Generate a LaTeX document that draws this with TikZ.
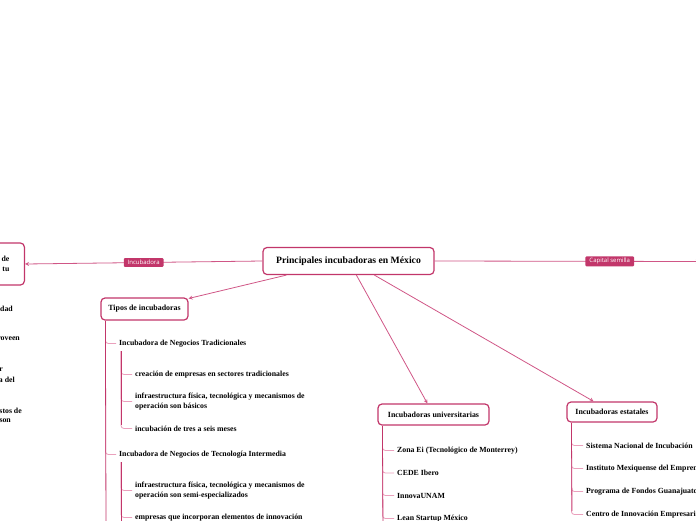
\documentclass[tikz,border=0pt]{standalone}
\usepackage{fontspec}
\setmainfont{Liberation Serif}
\newfontfamily\tagfont{Open Sans}
\usetikzlibrary{positioning, arrows}

\definecolor{mmred}{RGB}{194,54,106}
\definecolor{mmline}{RGB}{208,86,134}
\definecolor{mmpink}{RGB}{234,160,188}

\tikzset{
  topic/.style={draw=mmred, line width=1.2pt, rounded corners=4pt, fill=white, align=center, font=\bfseries\fontsize{7.9}{9}\selectfont, inner xsep=6pt, minimum height=21pt},
  central/.style={topic, font=\bfseries\fontsize{9.7}{11}\selectfont, minimum height=27pt},
  item/.style={anchor=west, align=left, inner xsep=3pt, inner ysep=1pt, yshift=-1.5pt, font=\bfseries\fontsize{7.8}{10}\selectfont},
  frag/.style={anchor=east, inner sep=0pt, font=\bfseries\fontsize{7.8}{10}\selectfont},
  tag/.style={fill=mmred, text=white, rounded corners=1pt, inner xsep=4pt, inner ysep=2pt, font=\tagfont\fontsize{6}{7}\selectfont},
  link/.style={color=mmline, line width=0.8pt, ->, >=stealth},
  stem/.style={color=mmred, line width=0.8pt},
  twig/.style={color=mmpink, line width=0.8pt, rounded corners=3pt},
}

\begin{document}
\begin{tikzpicture}[x=1pt, y=-1pt]
\useasboundingbox (0,0) rectangle (696,520);
\clip (0,0) rectangle (696,520);

% main topics
\node[central, minimum width=171pt] (central) at (348.5,261) {Principales incubadoras en México};
\node[topic, anchor=east, minimum height=42pt, align=right, inner xsep=15pt, font=\bfseries\fontsize{7.8}{10.5}\selectfont] (left) at (25,264) {de\\tu};
\coordinate (capital) at (700,261.5);
\node[topic, minimum width=87pt, minimum height=22pt] (tipos) at (144.5,309) {Tipos de incubadoras};
\node[topic, minimum width=111pt] (univ) at (433.5,414.5) {Incubadoras universitarias};
\node[topic, minimum width=90pt, minimum height=20pt] (estatales) at (612,412) {Incubadoras estatales};

\draw[link] (central.west) -- (left.east);
\draw[link] (central.east) -- (capital);
\path (central.west) -- (left.east) node[tag, pos=0.5] (tag-inc) {Incubadora};
\path (central.east) -- (capital) node[tag, pos=0.66] (tag-cap) {Capital semilla};
\draw[link] ([xshift=24pt]central.south west) -- (tipos);
\draw[link] ([xshift=94pt]central.south west) -- (univ);
\draw[link] ([xshift=112pt]central.south west) -- (estatales);

% left branch, cut by the page edge
\node[frag] (frag-a) at (13,309) {dad};
\node[frag] (frag-b) at (20,339) {roveen};
\node[frag] (frag-c) at (3,370) {r};
\node[frag] (frag-d) at (15,380) {a del};
\node[frag] (frag-e) at (22,411) {stos de};
\node[frag] (frag-f) at (11,421) {son};

% Tipos de incubadoras
\coordinate (tipos-root) at ([xshift=5pt]tipos.south west);
\node[item] (trad) at (116,342) {Incubadora de Negocios Tradicionales};
\node[item] (inter) at (116,453) {Incubadora de Negocios de Tecnología Intermedia};
\draw[twig] (tipos-root) |- (trad.west);
\draw[twig] (tipos-root) |- (inter.west);
\draw[stem] (tipos-root) -- (106,525);

\coordinate (trad-root) at (121,351);
\node[item] (trad-a) at (132,373) {creación de empresas en sectores tradicionales};
\node[item] (trad-b) at (132,400) {infraestructura física, tecnológica y mecanismos de\\operación son básicos};
\node[item] (trad-c) at (132,427) {incubación de tres a seis meses};
\draw[twig] (trad-root) |- (trad-a.west);
\draw[twig] (trad-root) |- (trad-b.west);
\draw[twig] (trad-root) |- (trad-c.west);
\draw[stem] (trad-root) -- (121,425);

\coordinate (inter-root) at (121,462);
\node[item] (inter-a) at (132,489) {infraestructura física, tecnológica y mecanismos de\\operación son semi-especializados};
\node[item] (inter-b) at (132,516) {empresas que incorporan elementos de innovación};
\draw[twig] (inter-root) |- (inter-a.west);
\draw[twig] (inter-root) |- (inter-b.west);
\draw[stem] (inter-root) -- (121,525);

% Incubadoras universitarias
\coordinate (univ-root) at ([xshift=5pt]univ.south west);
\node[item] (univ-a) at (394,449) {Zona Ei (Tecnológico de Monterrey)};
\node[item] (univ-b) at (394,471.5) {CEDE Ibero};
\node[item] (univ-c) at (394,494) {InnovaUNAM};
\node[item] (univ-d) at (394,517) {Lean Startup México};
\draw[twig] (univ-root) |- (univ-a.west);
\draw[twig] (univ-root) |- (univ-b.west);
\draw[twig] (univ-root) |- (univ-c.west);
\draw[twig] (univ-root) |- (univ-d.west);
\draw[stem] (univ-root) -- (383,525);

% Incubadoras estatales
\coordinate (est-root) at ([xshift=5pt]estatales.south west);
\node[item] (est-a) at (583,444) {Sistema Nacional de Incubación};
\node[item] (est-b) at (583,467) {Instituto Mexiquense del Emprendedor};
\node[item] (est-c) at (583,490) {Programa de Fondos Guanajuato};
\node[item] (est-d) at (583,513) {Centro de Innovación Empresarial};
\draw[twig] (est-root) |- (est-a.west);
\draw[twig] (est-root) |- (est-b.west);
\draw[twig] (est-root) |- (est-c.west);
\draw[twig] (est-root) |- (est-d.west);
\draw[stem] (est-root) -- (572,511);
\end{tikzpicture}
\end{document}
